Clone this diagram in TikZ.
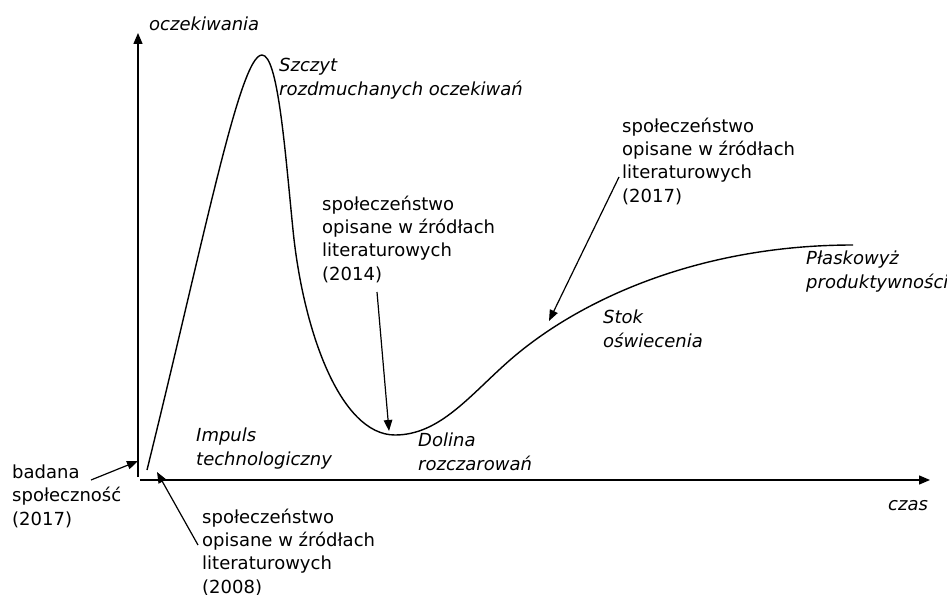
\documentclass[tikz,border=0pt]{standalone}
\usepackage{fontspec}
\setmainfont{DejaVu Sans}
\usetikzlibrary{arrows.meta}
\begin{document}
\begin{tikzpicture}[x=1pt,y=-1pt,
  lbl/.style={anchor=base west, inner sep=0pt, align=left, font=\fontsize{18}{23.3}\selectfont},
  phase/.style={lbl, font=\fontsize{18}{23.3}\selectfont\itshape},
  pointer/.style={-{Triangle[length=11pt,width=8.5pt]}, line width=1.2pt},
  axisline/.style={-{Triangle[length=11pt,width=9pt]}, line width=1.4pt},
  hype/.style={line width=1.4pt}]
\useasboundingbox (0,0) rectangle (947,594);

% axes
\coordinate (origin) at (138,477);
\coordinate (ytop) at (138,33);
\coordinate (xstart) at (140,480);
\coordinate (xend) at (930,480);
\draw[axisline] (origin) -- (ytop);
\draw[axisline] (xstart) -- (xend);
\node[phase] (ylab) at (149,31) {oczekiwania};
\node[phase] (xlab) at (888,510) {czas};

% hype curve: trigger, peak, trough, slope and plateau
\coordinate (c0) at (147,470);
\coordinate (cpeak) at (262,55);
\coordinate (cfall) at (293,230);
\coordinate (cbottom) at (395,435);
\coordinate (crise) at (510,360);
\coordinate (cend) at (853,245);
\draw[hype] (c0) .. controls (205,235) and (240,55) .. (cpeak)
  .. controls (278,55) and (285,150) .. (cfall)
  .. controls (303,330) and (340,435) .. (cbottom)
  .. controls (440,435) and (470,395) .. (crise)
  .. controls (580,299) and (700,245) .. (cend);

% phase names (multi-line nodes are placed by the baseline of their last line)
\node[phase] (peak) at (279,95) {Szczyt\\rozdmuchanych oczekiwań};
\node[phase] (trigger) at (196,465) {Impuls\\technologiczny};
\node[phase] (trough) at (418,470) {Dolina\\rozczarowań};
\node[phase] (slope) at (603,347) {Stok\\oświecenia};
\node[phase] (plateau) at (806,288) {Płaskowyż\\produktywności};

% annotated positions
\node[lbl] (s2014) at (322,280) {społeczeństwo\\opisane w źródłach\\literaturowych\\(2014)};
\node[lbl] (s2017) at (622,202) {społeczeństwo\\opisane w źródłach\\literaturowych\\(2017)};
\node[lbl] (s2008) at (202,593) {społeczeństwo\\opisane w źródłach\\literaturowych\\(2008)};
\node[lbl] (own) at (12,525) {badana\\społeczność\\(2017)};

\coordinate (p2014a) at (377,292);
\coordinate (p2014b) at (389,431);
\coordinate (p2017a) at (619,177);
\coordinate (p2017b) at (549,321);
\coordinate (p2008a) at (198,545);
\coordinate (p2008b) at (157,472);
\coordinate (owna) at (91,480);
\coordinate (ownb) at (138,461);

\draw[pointer] (p2014a) -- (p2014b);
\draw[pointer] (p2017a) -- (p2017b);
\draw[pointer] (p2008a) -- (p2008b);
\draw[pointer] (owna) -- (ownb);
\end{tikzpicture}
\end{document}
